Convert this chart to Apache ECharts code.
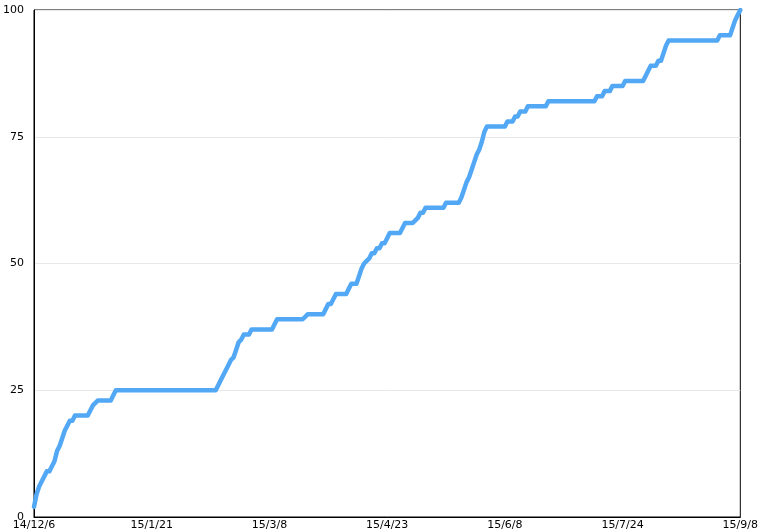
<!DOCTYPE html>
<html>
<head>
<meta charset="utf-8">
<script src="https://cdn.jsdelivr.net/npm/echarts@6/dist/echarts.min.js"></script>
<style>html,body{margin:0;padding:0;background:#fff}#c{width:761px;height:532px}</style>
</head>
<body>
<div id="c"></div>
<script>
// Category range: daily dates from 2014-12-06 to 2015-09-08
const startDate = [2014, 12, 6];
const dayCount = 277;
// Cumulative values, one per day
const values = [
  2,4.5,6,7,8,9,9,10,11,13,14,15.5,17,18,19,19,20,20,20,20,
  20,20,21,22,22.5,23,23,23,23,23,23,24,25,25,25,25,25,25,25,25,
  25,25,25,25,25,25,25,25,25,25,25,25,25,25,25,25,25,25,25,25,
  25,25,25,25,25,25,25,25,25,25,25,25,26,27,28,29,30,31,31.5,33,
  34.5,35,36,36,36,37,37,37,37,37,37,37,37,37,38,39,39,39,39,39,
  39,39,39,39,39,39,39.5,40,40,40,40,40,40,40,41,42,42,43,44,44,
  44,44,44,45,46,46,46,47.5,49,50,50.5,51,52,52,53,53,54,54,55,56,
  56,56,56,56,57,58,58,58,58,58.5,59,60,60,61,61,61,61,61,61,61,
  61,62,62,62,62,62,62,63,64.5,66,67,68.5,70,71.5,72.5,74,76,77,77,77,
  77,77,77,77,77,78,78,78,79,79,80,80,80,81,81,81,81,81,81,81,
  81,82,82,82,82,82,82,82,82,82,82,82,82,82,82,82,82,82,82,82,
  83,83,83,84,84,84,85,85,85,85,85,86,86,86,86,86,86,86,86,87,
  88,89,89,89,90,90,91.5,93,94,94,94,94,94,94,94,94,94,94,94,94,
  94,94,94,94,94,94,94,94,95,95,95,95,95,96.5,98,99,100
];
const yTicks = [0, 25, 50, 75, 100];

const categories = [];
for (let i = 0; i < dayCount; i++) {
  const d = new Date(Date.UTC(startDate[0], startDate[1] - 1, startDate[2] + i));
  categories.push(String(d.getUTCFullYear() % 100) + '/' + (d.getUTCMonth() + 1) + '/' + d.getUTCDate());
}

const chart = echarts.init(document.getElementById('c'));
const font = 'DejaVu Sans';
chart.setOption({
  animation: false,
  backgroundColor: '#fff',
  grid: {left: 30, right: 19, top: 10, bottom: 15, show: true, borderColor: '#000', borderWidth: 1, containLabel: false},
  xAxis: {
    type: 'category',
    data: categories,
    boundaryGap: false,
    axisLine: {lineStyle: {color: '#000', width: 1}},
    axisTick: {show: false},
    axisLabel: {interval: 45, color: '#000', fontFamily: font, fontSize: 11, margin: 3},
    splitLine: {show: false}
  },
  yAxis: {
    type: 'value',
    min: yTicks[0],
    max: yTicks[yTicks.length - 1],
    interval: 25,
    axisLine: {show: true, lineStyle: {color: '#000', width: 1}},
    axisTick: {show: false},
    axisLabel: {color: '#000', fontFamily: font, fontSize: 11, margin: 10},
    splitLine: {show: true, lineStyle: {color: '#e8e8e8', width: 1}}
  },
  series: [{
    type: 'line',
    data: values,
    showSymbol: false,
    symbol: 'none',
    lineStyle: {color: '#52a8f5', width: 4.5, cap: 'round', join: 'round'},
    itemStyle: {color: '#52a8f5'}
  }]
});
</script>
</body>
</html>
